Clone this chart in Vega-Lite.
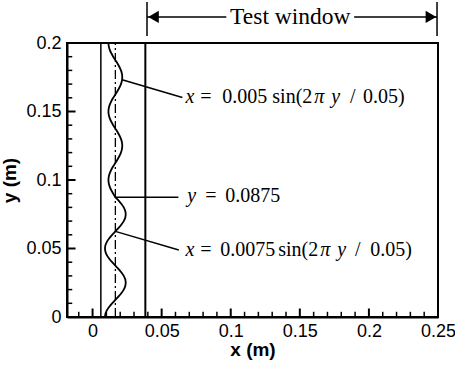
{
  "$schema": "https://vega.github.io/schema/vega-lite/v6.json",
  "width": 371,
  "height": 274,
  "autosize": {"type": "none"},
  "padding": {"left": 67, "top": 43, "right": 17, "bottom": 51},
  "background": "white",
  "config": {
    "view": {"stroke": "black", "strokeWidth": 2},
    "axis": {
      "grid": false,
      "domainColor": "black",
      "domainWidth": 2,
      "labelColor": "black",
      "titleColor": "black",
      "labelFont": "Liberation Sans",
      "labelFontSize": 18,
      "titleFont": "Liberation Sans",
      "titleFontSize": 19,
      "titleFontWeight": "bold",
      "labelFlush": false,
      "labelOverlap": false,
      "labelBound": false
    }
  },
  "resolve": {"axis": {"x": "independent", "y": "independent"}},
  "datasets": {
    "curve": [
      {"x": 0.0090, "y": 0.0}, {"x": 0.00937, "y": 0.0025}, {"x": 0.01043, "y": 0.005}, {"x": 0.01209, "y": 0.0075},
      {"x": 0.01418, "y": 0.01}, {"x": 0.0165, "y": 0.0125}, {"x": 0.01882, "y": 0.015}, {"x": 0.02091, "y": 0.0175},
      {"x": 0.02257, "y": 0.02}, {"x": 0.02363, "y": 0.0225}, {"x": 0.0240, "y": 0.025}, {"x": 0.02363, "y": 0.0275},
      {"x": 0.02257, "y": 0.03}, {"x": 0.02091, "y": 0.0325}, {"x": 0.01882, "y": 0.035}, {"x": 0.0165, "y": 0.0375},
      {"x": 0.01418, "y": 0.04}, {"x": 0.01209, "y": 0.0425}, {"x": 0.01043, "y": 0.045}, {"x": 0.00937, "y": 0.0475},
      {"x": 0.0090, "y": 0.05}, {"x": 0.00937, "y": 0.0525}, {"x": 0.01043, "y": 0.055}, {"x": 0.01209, "y": 0.0575},
      {"x": 0.01418, "y": 0.06}, {"x": 0.0165, "y": 0.0625}, {"x": 0.01882, "y": 0.065}, {"x": 0.02091, "y": 0.0675},
      {"x": 0.02257, "y": 0.07}, {"x": 0.02363, "y": 0.0725}, {"x": 0.0240, "y": 0.075}, {"x": 0.02363, "y": 0.0775},
      {"x": 0.02257, "y": 0.08}, {"x": 0.02091, "y": 0.0825}, {"x": 0.01882, "y": 0.085}, {"x": 0.0165, "y": 0.0875},
      {"x": 0.01496, "y": 0.09}, {"x": 0.01356, "y": 0.0925}, {"x": 0.01246, "y": 0.095}, {"x": 0.01174, "y": 0.0975},
      {"x": 0.0115, "y": 0.1}, {"x": 0.01174, "y": 0.1025}, {"x": 0.01246, "y": 0.105}, {"x": 0.01356, "y": 0.1075},
      {"x": 0.01496, "y": 0.11}, {"x": 0.0165, "y": 0.1125}, {"x": 0.01805, "y": 0.115}, {"x": 0.01944, "y": 0.1175},
      {"x": 0.02055, "y": 0.12}, {"x": 0.02126, "y": 0.1225}, {"x": 0.0215, "y": 0.125}, {"x": 0.02126, "y": 0.1275},
      {"x": 0.02055, "y": 0.13}, {"x": 0.01944, "y": 0.1325}, {"x": 0.01805, "y": 0.135}, {"x": 0.0165, "y": 0.1375},
      {"x": 0.01496, "y": 0.14}, {"x": 0.01356, "y": 0.1425}, {"x": 0.01246, "y": 0.145}, {"x": 0.01174, "y": 0.1475},
      {"x": 0.0115, "y": 0.15}, {"x": 0.01174, "y": 0.1525}, {"x": 0.01246, "y": 0.155}, {"x": 0.01356, "y": 0.1575},
      {"x": 0.01496, "y": 0.16}, {"x": 0.0165, "y": 0.1625}, {"x": 0.01805, "y": 0.165}, {"x": 0.01944, "y": 0.1675},
      {"x": 0.02055, "y": 0.17}, {"x": 0.02126, "y": 0.1725}, {"x": 0.0215, "y": 0.175}, {"x": 0.02126, "y": 0.1775},
      {"x": 0.02055, "y": 0.18}, {"x": 0.01944, "y": 0.1825}, {"x": 0.01805, "y": 0.185}, {"x": 0.0165, "y": 0.1875},
      {"x": 0.01496, "y": 0.19}, {"x": 0.01356, "y": 0.1925}, {"x": 0.01246, "y": 0.195}, {"x": 0.01174, "y": 0.1975},
      {"x": 0.0115, "y": 0.2}
    ],
    "segs": [
      {"x": 0.006, "y": 0.0, "x2": 0.006, "y2": 0.2},
      {"x": 0.0214, "y": 0.1732, "x2": 0.0650, "y2": 0.1602},
      {"x": 0.0165, "y": 0.0875, "x2": 0.0621, "y2": 0.0875},
      {"x": 0.0165, "y": 0.0625, "x2": 0.0624, "y2": 0.0489},
      {"x": 0.0394, "y": 0.219, "x2": 0.0968, "y2": 0.219},
      {"x": 0.1893, "y": 0.219, "x2": 0.2493, "y2": 0.219},
      {"x": 0.0394, "y": 0.2051, "x2": 0.0394, "y2": 0.2299},
      {"x": 0.2493, "y": 0.2051, "x2": 0.2493, "y2": 0.2299}
    ],
    "window": [{"x": 0.0382, "y": 0.0, "x2": 0.0382, "y2": 0.2}],
    "center": [{"x": 0.0165, "y": 0.0, "x2": 0.0165, "y2": 0.2}],
    "headL": [{"x": 0.0441, "y": 0.219}],
    "headR": [{"x": 0.2449, "y": 0.219}],
    "xMajor": [{"v": 0}, {"v": 0.05}, {"v": 0.1}, {"v": 0.15}, {"v": 0.2}],
    "xMinor": [{"v": -0.01}, {"v": 0.01}, {"v": 0.02}, {"v": 0.03}, {"v": 0.04}, {"v": 0.06}, {"v": 0.07}, {"v": 0.08}, {"v": 0.09}, {"v": 0.11}, {"v": 0.12}, {"v": 0.13}, {"v": 0.14}, {"v": 0.16}, {"v": 0.17}, {"v": 0.18}, {"v": 0.19}, {"v": 0.21}, {"v": 0.22}, {"v": 0.23}, {"v": 0.24}],
    "yMajor": [{"v": 0.05}, {"v": 0.1}, {"v": 0.15}],
    "yMinor": [{"v": 0.01}, {"v": 0.02}, {"v": 0.03}, {"v": 0.04}, {"v": 0.06}, {"v": 0.07}, {"v": 0.08}, {"v": 0.09}, {"v": 0.11}, {"v": 0.12}, {"v": 0.13}, {"v": 0.14}, {"v": 0.16}, {"v": 0.17}, {"v": 0.18}, {"v": 0.19}],
    "reg": [
      {"t": "=", "x": 0.0780, "y": 0.1562}, {"t": "0.005", "x": 0.0939, "y": 0.1562}, {"t": "sin(2", "x": 0.1301, "y": 0.1562},
      {"t": "/", "x": 0.1864, "y": 0.1562}, {"t": "0.05)", "x": 0.1958, "y": 0.1562},
      {"t": "=", "x": 0.0816, "y": 0.0839}, {"t": "0.0875", "x": 0.0961, "y": 0.0839},
      {"t": "=", "x": 0.0780, "y": 0.0445}, {"t": "0.0075", "x": 0.0925, "y": 0.0445}, {"t": "sin(2", "x": 0.1344, "y": 0.0445},
      {"t": "/", "x": 0.1900, "y": 0.0445}, {"t": "0.05)", "x": 0.2009, "y": 0.0445}
    ],
    "ital": [
      {"t": "x", "x": 0.0672, "y": 0.1562}, {"t": "π", "x": 0.1604, "y": 0.1562}, {"t": "y", "x": 0.1727, "y": 0.1562},
      {"t": "y", "x": 0.0686, "y": 0.0839},
      {"t": "x", "x": 0.0672, "y": 0.0445}, {"t": "π", "x": 0.1647, "y": 0.0445}, {"t": "y", "x": 0.1770, "y": 0.0445}
    ],
    "title": [{"t": "Test window", "x": 0.1431, "y": 0.219}]
  },
  "layer": [
    {
      "data": {"name": "curve"},
      "mark": {"type": "line", "color": "black", "strokeWidth": 1.8, "interpolate": "catmull-rom"},
      "encoding": {
        "x": {
          "field": "x", "type": "quantitative",
          "scale": {"domain": [-0.0185, 0.25], "nice": false, "zero": false},
          "axis": {
            "title": "x (m)",
            "orient": "bottom",
            "titlePadding": 0,
            "values": [0, 0.05, 0.1, 0.15, 0.2, 0.25],
            "format": ".2~f",
            "ticks": false,
            "labelPadding": 5
          }
        },
        "y": {
          "field": "y", "type": "quantitative",
          "scale": {"domain": [0, 0.2], "nice": false, "zero": false},
          "axis": {
            "title": "y (m)",
            "orient": "left",
            "titlePadding": 6,
            "values": [0, 0.05, 0.1, 0.15, 0.2],
            "format": ".2~f",
            "ticks": false,
            "labelPadding": 6
          }
        },
        "order": {"field": "y", "type": "quantitative"}
      }
    },
    {
      "data": {"name": "xMajor"},
      "mark": {"type": "rule", "color": "black", "strokeWidth": 2},
      "encoding": {
        "x": {"field": "v", "type": "quantitative", "axis": null},
        "y": {"datum": 0, "type": "quantitative", "axis": null},
        "y2": {"datum": 0.0062}
      }
    },
    {
      "data": {"name": "xMinor"},
      "mark": {"type": "rule", "color": "black", "strokeWidth": 1.5},
      "encoding": {
        "x": {"field": "v", "type": "quantitative", "axis": null},
        "y": {"datum": 0, "type": "quantitative", "axis": null},
        "y2": {"datum": 0.0038}
      }
    },
    {
      "data": {"name": "yMajor"},
      "mark": {"type": "rule", "color": "black", "strokeWidth": 2},
      "encoding": {
        "y": {"field": "v", "type": "quantitative", "axis": null},
        "x": {"datum": -0.0185, "type": "quantitative", "axis": null},
        "x2": {"datum": -0.0123}
      }
    },
    {
      "data": {"name": "yMinor"},
      "mark": {"type": "rule", "color": "black", "strokeWidth": 1.5},
      "encoding": {
        "y": {"field": "v", "type": "quantitative", "axis": null},
        "x": {"datum": -0.0185, "type": "quantitative", "axis": null},
        "x2": {"datum": -0.0147}
      }
    },
    {
      "data": {"name": "center"},
      "mark": {"type": "rule", "color": "black", "strokeWidth": 1.3, "strokeDash": [9, 3, 2, 3]},
      "encoding": {
        "x": {"field": "x", "type": "quantitative", "axis": null},
        "y": {"field": "y", "type": "quantitative", "axis": null},
        "x2": {"field": "x2"},
        "y2": {"field": "y2"}
      }
    },
    {
      "data": {"name": "window"},
      "mark": {"type": "rule", "color": "black", "strokeWidth": 2},
      "encoding": {
        "x": {"field": "x", "type": "quantitative", "axis": null},
        "y": {"field": "y", "type": "quantitative", "axis": null},
        "x2": {"field": "x2"},
        "y2": {"field": "y2"}
      }
    },
    {
      "data": {"name": "segs"},
      "mark": {"type": "rule", "color": "black", "strokeWidth": 1.5},
      "encoding": {
        "x": {"field": "x", "type": "quantitative", "axis": null},
        "y": {"field": "y", "type": "quantitative", "axis": null},
        "x2": {"field": "x2"},
        "y2": {"field": "y2"}
      }
    },
    {
      "data": {"name": "headL"},
      "mark": {"type": "point", "shape": "triangle-left", "filled": true, "color": "black", "opacity": 1, "size": 150},
      "encoding": {
        "x": {"field": "x", "type": "quantitative", "axis": null},
        "y": {"field": "y", "type": "quantitative", "axis": null}
      }
    },
    {
      "data": {"name": "headR"},
      "mark": {"type": "point", "shape": "triangle-right", "filled": true, "color": "black", "opacity": 1, "size": 150},
      "encoding": {
        "x": {"field": "x", "type": "quantitative", "axis": null},
        "y": {"field": "y", "type": "quantitative", "axis": null}
      }
    },
    {
      "data": {"name": "reg"},
      "mark": {"type": "text", "font": "Liberation Serif", "fontSize": 20, "align": "left", "baseline": "alphabetic", "color": "black"},
      "encoding": {
        "x": {"field": "x", "type": "quantitative", "axis": null},
        "y": {"field": "y", "type": "quantitative", "axis": null},
        "text": {"field": "t"}
      }
    },
    {
      "data": {"name": "ital"},
      "mark": {"type": "text", "font": "Liberation Serif", "fontSize": 20, "fontStyle": "italic", "align": "left", "baseline": "alphabetic", "color": "black"},
      "encoding": {
        "x": {"field": "x", "type": "quantitative", "axis": null},
        "y": {"field": "y", "type": "quantitative", "axis": null},
        "text": {"field": "t"}
      }
    },
    {
      "data": {"name": "title"},
      "mark": {"type": "text", "font": "Liberation Serif", "fontSize": 23.5, "align": "center", "baseline": "middle", "color": "black"},
      "encoding": {
        "x": {"field": "x", "type": "quantitative", "axis": null},
        "y": {"field": "y", "type": "quantitative", "axis": null},
        "text": {"field": "t"}
      }
    }
  ]
}
